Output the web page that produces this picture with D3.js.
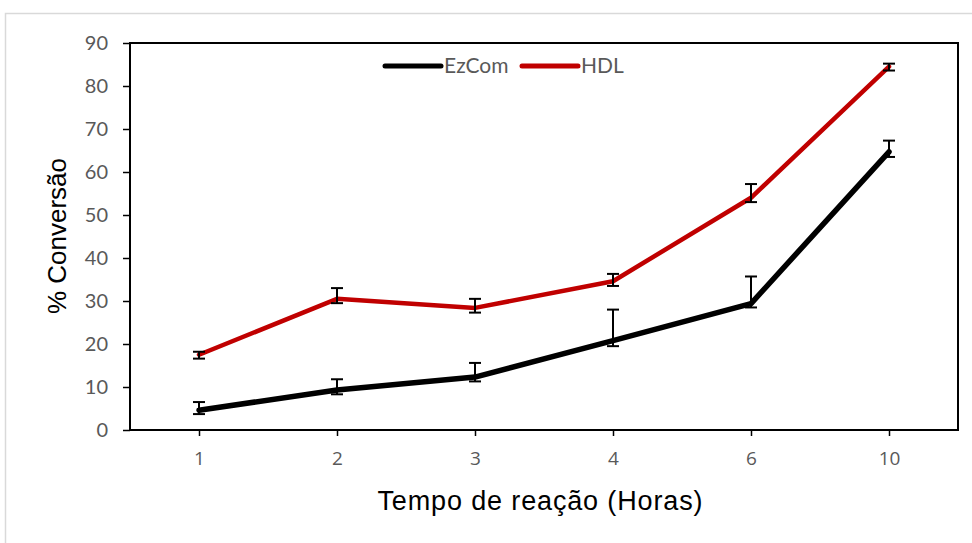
<!DOCTYPE html>
<html>
<head>
<meta charset="utf-8">
<script src="https://cdn.jsdelivr.net/npm/d3@7"></script>
<style>
  body { margin: 0; background: #fff; }
  svg { display: block; }
</style>
</head>
<body>
<svg></svg>
<script>
const categories = ['1', '2', '3', '4', '6', '10'];
const ezcom = [4.6, 9.3, 12.3, 20.8, 29.4, 64.7];
const ezcomUp = [6.5, 11.8, 15.6, 28.0, 35.7, 67.3];
const ezcomDown = [3.7, 8.3, 11.3, 19.5, 28.5, 63.5];
const hdl = [17.5, 30.5, 28.4, 34.6, 54.0, 84.5];
const hdlUp = [18.2, 33.0, 30.5, 36.3, 57.2, 85.2];
const hdlDown = [16.6, 29.5, 27.3, 33.5, 53.0, 83.6];
const yTicks = [0, 10, 20, 30, 40, 50, 60, 70, 80, 90];

const w = 972;
const h = 543;
const plotLeft = 130;
const plotRight = 958;
const plotTop = 43;
const plotBottom = 430;

const svg = d3.select('svg').attr('width', w).attr('height', h);

// outer chart-area border
svg.append('rect')
  .attr('x', 5.5).attr('y', 13.5)
  .attr('width', 1000).attr('height', 600)
  .attr('fill', 'none').attr('stroke', '#d9d9d9').attr('stroke-width', 1.5);

const xScale = d3.scalePoint().domain(categories).range([plotLeft, plotRight]).padding(0.5);
const yScale = d3.scaleLinear().domain([0, 90]).range([plotBottom, plotTop]);

// plot frame
svg.append('rect')
  .attr('x', plotLeft).attr('y', plotTop)
  .attr('width', plotRight - plotLeft).attr('height', plotBottom - plotTop)
  .attr('fill', 'none').attr('stroke', '#000').attr('stroke-width', 2);

const yAxis = d3.axisLeft(yScale).tickValues(yTicks).tickSize(7).tickPadding(15);
const gy = svg.append('g').attr('transform', `translate(${plotLeft},0)`).call(yAxis);
gy.select('.domain').remove();
gy.selectAll('line').attr('stroke', '#000').attr('stroke-width', 1.5);
gy.selectAll('text')
  .attr('font-family', 'Lato, "Open Sans", sans-serif')
  .attr('font-size', 20).attr('fill', '#595959');

const xAxis = d3.axisBottom(xScale).tickSize(6).tickPadding(16);
const gx = svg.append('g').attr('transform', `translate(0,${plotBottom})`).call(xAxis);
gx.select('.domain').remove();
gx.selectAll('line').attr('stroke', '#000').attr('stroke-width', 1.5);
gx.selectAll('text')
  .attr('font-family', '"Liberation Sans Narrow", "Open Sans", sans-serif')
  .attr('font-size', 19).attr('fill', '#595959');

// axis titles
svg.append('text')
  .attr('x', 540).attr('y', 510)
  .attr('text-anchor', 'middle')
  .attr('font-family', '"Liberation Sans", Arial, sans-serif')
  .attr('font-size', 27).attr('fill', '#000')
  .attr('textLength', 325)
  .text('Tempo de reação (Horas)');

svg.append('text')
  .attr('transform', `translate(66,236) rotate(-90)`)
  .attr('text-anchor', 'middle')
  .attr('font-family', '"Liberation Sans", Arial, sans-serif')
  .attr('font-size', 26).attr('fill', '#000')
  .text('% Conversão');

const series = [
  { name: 'EzCom', values: ezcom, up: ezcomUp, down: ezcomDown, color: '#000000', width: 5.5 },
  { name: 'HDL', values: hdl, up: hdlUp, down: hdlDown, color: '#c00000', width: 4.5 }
];

const line = d3.line()
  .x((d, i) => xScale(categories[i]))
  .y((d) => yScale(d));

series.forEach((s) => {
  svg.append('path')
    .datum(s.values)
    .attr('d', line)
    .attr('fill', 'none')
    .attr('stroke', s.color)
    .attr('stroke-width', s.width)
    .attr('stroke-linejoin', 'round')
    .attr('stroke-linecap', 'round');

  // error bars (black)
  const eb = svg.append('g');
  categories.forEach((c, i) => {
    const x = xScale(c);
    const y1 = yScale(s.up[i]);
    const y2 = yScale(s.down[i]);
    eb.append('line').attr('x1', x).attr('x2', x).attr('y1', y1).attr('y2', y2)
      .attr('stroke', '#000').attr('stroke-width', 2);
    [y1, y2].forEach((yy) => {
      eb.append('line').attr('x1', x - 6).attr('x2', x + 6).attr('y1', yy).attr('y2', yy)
        .attr('stroke', '#000').attr('stroke-width', 2);
    });
  });
});

// legend
const legendX = [385, 522];
series.forEach((s, i) => {
  const g = svg.append('g').attr('transform', `translate(${legendX[i]},66)`);
  g.append('line').attr('x1', 0).attr('x2', 56).attr('y1', 0).attr('y2', 0)
    .attr('stroke', s.color).attr('stroke-width', 5).attr('stroke-linecap', 'round');
  g.append('text').attr('x', 59).attr('y', 7)
    .attr('font-family', 'Lato, "Open Sans", sans-serif')
    .attr('font-size', 21).attr('fill', '#595959')
    .text(s.name);
});
</script>
</body>
</html>
